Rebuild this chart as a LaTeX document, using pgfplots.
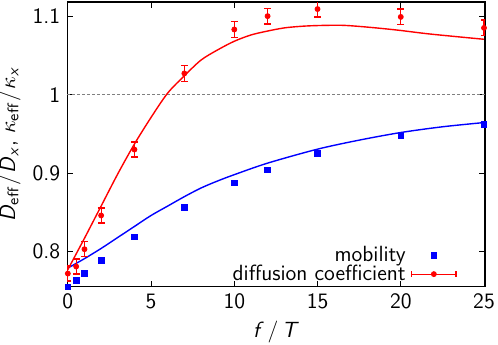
\documentclass[border=0pt]{standalone}
\usepackage{pgfplots}
\pgfplotsset{compat=1.18}
\renewcommand{\familydefault}{\sfdefault}
\pgfplotsset{
  mobleg/.style={legend image code/.code={\draw[mark repeat=2,mark phase=2,##1] plot coordinates {(0cm,0cm) (0.39cm,0cm) (0.78cm,0cm)};}},
  difleg/.style={legend image code/.code={
    \draw[red, line width=0.6pt] (0cm,0cm) -- (0.78cm,0cm);
    \draw[red, line width=0.6pt] (0cm,-1.4pt) -- (0cm,1.4pt);
    \draw[red, line width=0.6pt] (0.78cm,-1.4pt) -- (0.78cm,1.4pt);
    \draw[red, mark=*, mark size=1.25pt, mark options={fill=red, draw=red}] plot coordinates {(0.39cm,0cm)};}},
}
\begin{document}
\begin{tikzpicture}
\begin{axis}[
  scale only axis, width=209pt, height=142.5pt,
  xmin=-0.04, xmax=25.06, ymin=0.755, ymax=1.118,
  xtick={0,5,10,15,20,25}, ytick={0.8,0.9,1,1.1},
  yticklabels={0.8,0.9,1,1.1},
  tick align=inside, major tick length=3pt,
  tick style={black, line width=0.5pt},
  axis line style={line width=0.6pt},
  /pgf/number format/assume math mode=true,
  tick label style={font=\fontsize{11}{13}\selectfont},
  label style={font=\fontsize{11}{13}\selectfont},
  xlabel={\textit{f}\,/\,\textit{T}},
  ylabel={\textit{D}\textsubscript{eff}\hspace{0.1em}/\hspace{0.05em}\textit{D}\textsubscript{\textit{x}}, $\kappa$\textsubscript{eff}\hspace{0.1em}/\hspace{0.05em}$\kappa$\textsubscript{\textit{x}}},
  xlabel style={at={(axis description cs:0.5,-0.16)}, anchor=center},
  ylabel style={at={(axis description cs:-0.138,0.5)}, anchor=center},
  legend style={draw=none, fill=none, at={(axis cs:23.74,0.7488)}, anchor=south east,
    font=\fontsize{11}{13}\selectfont, row sep=-3.75pt, column sep=0.7pt},
  legend cell align=right, legend plot pos=right,
]
% dashed reference line
\addplot[gray, dash pattern=on 1.5pt off 1pt, line width=0.5pt, forget plot] coordinates {(-0.04,1) (25.06,1)};
% fits
\addplot[blue, line width=0.7pt, smooth, tension=0.5, forget plot] coordinates {
(0,0.779) (1,0.791) (2,0.804) (3,0.818) (4,0.832) (5,0.846) (6,0.858) (7,0.870) (8,0.881) (9,0.890) (10,0.898) (12,0.9127) (15,0.9305) (17.5,0.942) (20,0.9517) (22.5,0.959) (25,0.9644)};
\addplot[red, line width=0.7pt, smooth, tension=0.5, forget plot] coordinates {
(0,0.777) (0.5,0.797) (1,0.817) (2,0.858) (3,0.899) (4,0.937) (5,0.971) (6,1.002) (7,1.024) (8,1.044) (9,1.057) (10,1.068) (11,1.076) (12,1.081) (13,1.085) (14,1.087) (15,1.088) (16.5,1.0883) (18,1.086) (19.76,1.0823) (21.76,1.0772) (25,1.0705)};
% mobility
\addplot[only marks, mark=square*, blue, mark size=1.4pt, forget plot] coordinates {
(0,0.755) (0.5,0.763) (1,0.7725) (2,0.789) (4,0.8187) (7,0.8565) (10,0.8873) (12,0.904) (15,0.9254) (20,0.9483) (25,0.9623)};
% diffusion
\addplot[only marks, mark=*, red, mark size=1.25pt, forget plot,
  error bars/.cd, y dir=both, y explicit,
  error bar style={red, line width=0.6pt},
  error mark options={red, rotate=90, mark size=1.7pt, line width=0.6pt}]
  coordinates {
(0,0.772) +- (0,0.0095)
(0.5,0.781) +- (0,0.0095)
(1,0.803) +- (0,0.0095)
(2,0.846) +- (0,0.0095)
(4,0.930) +- (0,0.0095)
(7,1.027) +- (0,0.010)
(10,1.083) +- (0,0.010)
(12,1.100) +- (0,0.010)
(15,1.109) +- (0,0.010)
(20,1.099) +- (0,0.010)
(25,1.085) +- (0,0.010)};
\addlegendimage{only marks, mark=square*, blue, mark size=1.4pt, mobleg}
\addlegendentry{mobility}
\addlegendimage{red, difleg}
\addlegendentry{diffusion coefficient}
\end{axis}
\pgfresetboundingbox
\path (current axis.south west) ++(-33.6pt,-29pt) coordinate (bl);
\path (current axis.north east) ++(6.5pt,1pt) coordinate (tr);
\path[use as bounding box] (bl) rectangle (tr);
\end{tikzpicture}
\end{document}
